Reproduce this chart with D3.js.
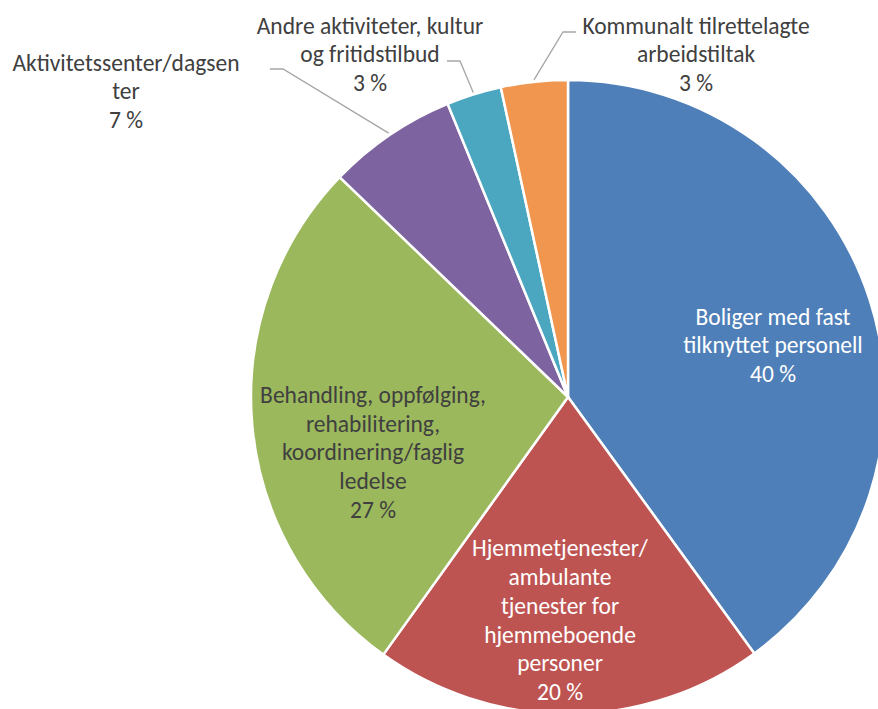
<!DOCTYPE html>
<html>
<head>
<meta charset="utf-8">
<script src="https://cdn.jsdelivr.net/npm/d3@7"></script>
<style>
  html, body { margin: 0; padding: 0; background: #fff; }
  svg { display: block; }
  text { font-family: "Carlito", "Lato", "Open Sans", sans-serif; }
</style>
</head>
<body>
<svg id="chart" width="878" height="709"></svg>
<script>
// ---- Data ----
const categories = [
  "Boliger med fast tilknyttet personell",
  "Hjemmetjenester/ ambulante tjenester for hjemmeboende personer",
  "Behandling, oppfølging, rehabilitering, koordinering/faglig ledelse",
  "Aktivitetssenter/dagsenter",
  "Andre aktiviteter, kultur og fritidstilbud",
  "Kommunalt tilrettelagte arbeidstiltak"
];
const values = [40.0, 19.9, 27.3, 6.6, 2.8, 3.4];
const labelLines = [
  ["Boliger med fast", "tilknyttet personell"],
  ["Hjemmetjenester/", "ambulante", "tjenester for", "hjemmeboende", "personer"],
  ["Behandling, oppfølging,", "rehabilitering,", "koordinering/faglig", "ledelse"],
  ["Aktivitetssenter/dagsen", "ter"],
  ["Andre aktiviteter, kultur", "og fritidstilbud"],
  ["Kommunalt tilrettelagte", "arbeidstiltak"]
];
const colors = ["#4F7FB8", "#BE5452", "#9BB85C", "#7D64A0", "#4BA7C0", "#F0964E"];

// ---- Layout ----
const W = 878, H = 709;
const cx = 568, cy = 397, R = 317;
const fontSize = 23.5, lineH = 28.7;

const svg = d3.select("#chart");
const g = svg.append("g").attr("transform", `translate(${cx},${cy})`);

const total = d3.sum(values);
const pie = d3.pie().sort(null).value(d => d)(values);
const arc = d3.arc().innerRadius(0).outerRadius(R);

g.selectAll("path.slice")
  .data(pie)
  .join("path")
  .attr("class", "slice")
  .attr("d", arc)
  .attr("fill", (d, i) => colors[i])
  .attr("stroke", "#fff")
  .attr("stroke-width", 2.5)
  .attr("stroke-linejoin", "round");

// label placement (layout constants, centre of label block, absolute coords)
const labelPos = [
  { x: 773, y: 345, fill: "#fff" },
  { x: 560, y: 620, fill: "#fff" },
  { x: 373, y: 452, fill: "#404040" },
  { x: 126, y: 91,  fill: "#404040", leader: [[270, 69], [283, 69]] },
  { x: 370, y: 54,  fill: "#404040", leader: [[447, 61], [460, 61]] },
  { x: 696, y: 54,  fill: "#404040", leader: [[576, 32], [563, 32]] }
];

// leader lines
pie.forEach((d, i) => {
  const lp = labelPos[i];
  if (!lp.leader) return;
  const mid = (d.startAngle + d.endAngle) / 2;
  const end = [cx + (R + 2) * Math.sin(mid), cy - (R + 2) * Math.cos(mid)];
  const pts = lp.leader.concat([end]);
  svg.append("path")
    .attr("d", d3.line()(pts))
    .attr("fill", "none")
    .attr("stroke", "#A6A6A6")
    .attr("stroke-width", 1.3);
});

// labels
pie.forEach((d, i) => {
  const lp = labelPos[i];
  const pct = Math.round(d.data / total * 100) + " %";
  const lines = labelLines[i].concat([pct]);
  const n = lines.length;
  const t = svg.append("text")
    .attr("text-anchor", "middle")
    .attr("font-size", fontSize)
    .attr("fill", lp.fill);
  lines.forEach((ln, k) => {
    t.append("tspan")
      .attr("x", lp.x)
      .attr("y", lp.y + (k - (n - 1) / 2) * lineH + fontSize * 0.35)
      .text(ln);
  });
});
</script>
</body>
</html>
